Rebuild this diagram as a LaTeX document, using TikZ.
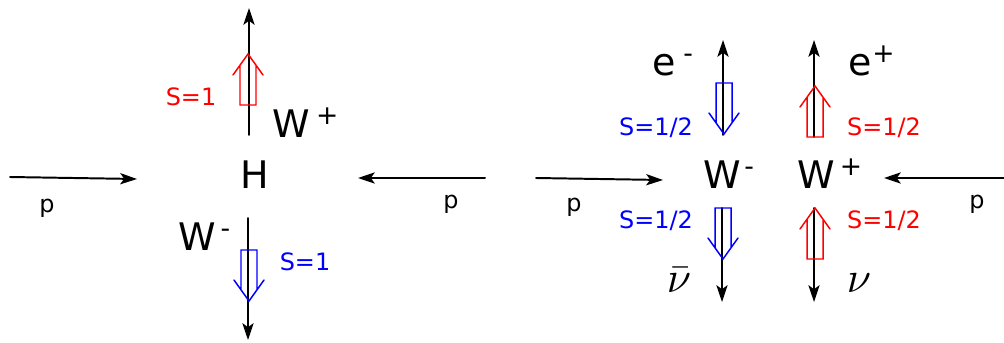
\documentclass[tikz,border=0pt]{standalone}
\usepackage{fontspec}
\setmainfont{DejaVu Sans}
\usetikzlibrary{arrows.meta}

\tikzset{
  pics/spinup/.style={code={\draw (-8,-40) -- (-8,0) -- (8,0) -- (8,-40) (-15,-30) -- (0,-51) -- (15,-30);}},
  pics/spindown/.style={code={\draw (-8,40) -- (-8,0) -- (8,0) -- (8,40) (-15,30) -- (0,51) -- (15,30);}},
  big/.style={inner sep=0pt,font=\fontsize{27}{30}\selectfont},
  lbl/.style={inner sep=0pt,font=\fontsize{17}{20}\selectfont},
  nu/.style={inner sep=0pt,scale=3.1},
  spinpos/.style={red,line width=1.05pt},
  spinneg/.style={blue,line width=1.05pt},
}

\begin{document}
\begin{tikzpicture}[x=0.025cm,y=-0.025cm,>={Stealth[length=4.2mm,width=2.8mm,inset=1mm]},line width=1.4pt,line cap=round]
\useasboundingbox (0,0) rectangle (1004,342);
% H -> W+ W-
\node[big,anchor=base west] (H) at (240,188) {H};
\node[big,anchor=base west] (WpL) at (272,137) {W\textsuperscript{\kern4pt+}};
\node[big,anchor=base west] (WmL) at (178,250) {W\textsuperscript{\kern3pt-}};
\coordinate (upA) at (249,135);
\coordinate (upB) at (249,8);
\coordinate (dnA) at (248,218);
\coordinate (dnB) at (248,340);
\draw[->] (upA) -- (upB);
\draw[->] (dnA) -- (dnB);
\pic[spinpos] at (248,105) {spinup};
\pic[spinneg] at (249,250) {spindown};
\node[lbl,red] (sL1) at (191,97) {S=1};
\node[lbl,blue] (sL2) at (305,262) {S=1};
% incoming protons, left
\coordinate (pA) at (10,177);
\coordinate (pB) at (137,179);
\coordinate (pC) at (485,178);
\coordinate (pD) at (358,178);
\draw[->] (pA) -- (pB);
\draw[->] (pC) -- (pD);
\node[lbl] (p1) at (47,208) {p};
\node[lbl] (p2) at (451,204) {p};
% W- W+ -> leptons
\node[big,anchor=base west] (WmR) at (703,188) {W\textsuperscript{\kern2pt-}};
\node[big,anchor=base west] (WpR) at (797,188) {W\textsuperscript{\kern3pt+}};
\node[big,anchor=base west] (em) at (652,75) {e\textsuperscript{\kern5pt-}};
\node[big,anchor=base west] (ep) at (848,75) {e\textsuperscript{+}};
\node[nu,anchor=base] (nub) at (679,292) {$\bar{\nu}$};
\node[nu,anchor=base] (nu) at (859,292) {$\nu$};
\coordinate (emA) at (723,135);
\coordinate (emB) at (723,40);
\coordinate (epA) at (814,137);
\coordinate (epB) at (814,40);
\coordinate (nbA) at (722,208);
\coordinate (nbB) at (722,302);
\coordinate (nuA) at (814,208);
\coordinate (nuB) at (814,302);
\draw[->] (emA) -- (emB);
\draw[->] (epA) -- (epB);
\draw[->] (nbA) -- (nbB);
\draw[->] (nuA) -- (nuB);
\pic[spinneg] at (724,83) {spindown};
\pic[spinpos] at (815,137) {spinup};
\pic[spinneg] at (723,208) {spindown};
\pic[spinpos] at (815,259) {spinup};
\node[lbl,blue] (sR1) at (656,128) {S=1/2};
\node[lbl,red] (sR2) at (884,128) {S=1/2};
\node[lbl,blue] (sR3) at (656,221) {S=1/2};
\node[lbl,red] (sR4) at (884,221) {S=1/2};
% incoming protons, right
\coordinate (pE) at (536,178);
\coordinate (pF) at (663,180);
\coordinate (pG) at (1004,178);
\coordinate (pH) at (884,178);
\draw[->] (pE) -- (pF);
\draw[->] (pG) -- (pH);
\node[lbl] (p3) at (574,207) {p};
\node[lbl] (p4) at (977,204) {p};
\end{tikzpicture}
\end{document}
